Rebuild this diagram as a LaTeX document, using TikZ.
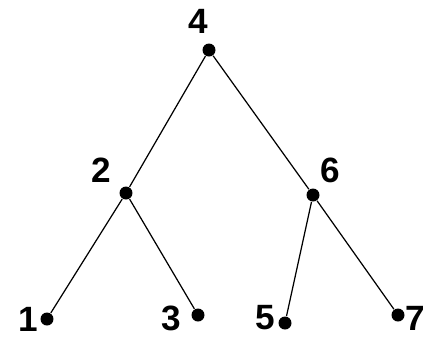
\documentclass[tikz,border=0pt]{standalone}
\usepackage{fontspec}
\setmainfont{Liberation Sans}
\begin{document}
\begin{tikzpicture}[x=0.02cm, y=-0.02cm, line width=0.7pt, dot/.style={circle, fill, inner sep=0pt, minimum size=0.26cm}, num/.style={font=\fontsize{20}{24}\selectfont\bfseries, inner sep=0pt}]
\useasboundingbox (0,0) rectangle (423,336);

\node[dot] (v4) at (209,50) {}; \node[num] (n4) at (198,21) {4};
\node[dot] (v2) at (126,193) {}; \node[num] (n2) at (101,170) {2};
\node[dot] (v6) at (313,195) {}; \node[num] (n6) at (330,170) {6};
\node[dot] (v1) at (47,319) {}; \node[num] (n1) at (28,319) {1};
\node[dot] (v3) at (198,315) {}; \node[num] (n3) at (171,318) {3};
\node[dot] (v5) at (285,323) {}; \node[num] (n5) at (265,318) {5};
\node[dot] (v7) at (398,315) {}; \node[num] (n7) at (415,318) {7};

\draw (v4) -- (v2);
\draw (v4) -- (v6);
\draw (v2) -- (v1);
\draw (v2) -- (v3);
\draw (v6) -- (v5);
\draw (v6) -- (v7);

\end{tikzpicture}
\end{document}
